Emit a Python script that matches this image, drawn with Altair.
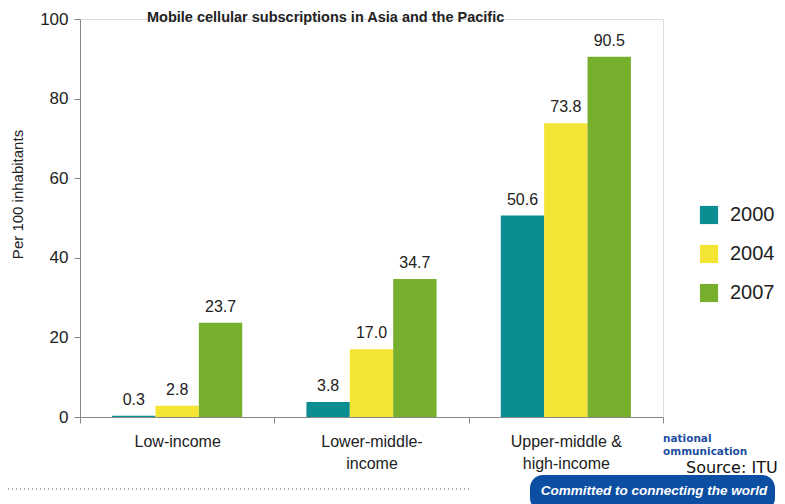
import altair as alt
import pandas as pd

groups = ["Low-income", "Lower-middle-\nincome", "Upper-middle &\nhigh-income"]
years = ["2000", "2004", "2007"]
v2000 = [0.3, 3.8, 50.6]
v2004 = [2.8, 17.0, 73.8]
v2007 = [23.7, 34.7, 90.5]
colors = ["#0B8D92", "#F4E434", "#76AF2B"]

rows = []
for i, g in enumerate(groups):
    for y, vals in zip(years, [v2000, v2004, v2007]):
        rows.append({"group": g, "year": y, "value": vals[i], "label": f"{vals[i]:.1f}"})
df = pd.DataFrame(rows)

FONT = "Liberation Sans"
W, H = 583, 398

xenc = alt.X("group:N", sort=groups, title=None,
             scale=alt.Scale(paddingInner=0, paddingOuter=0),
             axis=alt.Axis(labelExpr="split(datum.label, '\\n')", labelFontSize=16,
                           labelFont=FONT, labelColor="#222", labelAngle=0,
                           labelPadding=10, labelLineHeight=22,
                           tickBand="extent", tickSize=6, tickColor="#888",
                           domainColor="#888", ticks=True))
xoff = alt.XOffset("year:N", sort=years, scale=alt.Scale(paddingOuter=0.74, paddingInner=0))

bars = alt.Chart(df).mark_bar().encode(
    x=xenc,
    xOffset=xoff,
    y=alt.Y("value:Q", scale=alt.Scale(domain=[0, 100], nice=False),
            title="Per 100 inhabitants",
            axis=alt.Axis(values=[0, 20, 40, 60, 80, 100], grid=False,
                          labelFontSize=17, labelFont=FONT, labelColor="#222",
                          tickSize=6, tickColor="#888", domainColor="#888",
                          titleFont=FONT, titleFontSize=15, titleFontWeight="normal",
                          titleColor="#222", titlePadding=14, labelPadding=6,
                          titleY=175)),
    color=alt.Color("year:N", sort=years,
                    scale=alt.Scale(domain=years, range=colors),
                    legend=alt.Legend(title=None, orient="none", legendX=619, legendY=186,
                                      symbolType="square", symbolSize=330,
                                      symbolStrokeWidth=0, labelFontSize=20,
                                      labelFont=FONT, labelColor="#222",
                                      rowPadding=19, labelOffset=11)),
)

labels = alt.Chart(df).mark_text(baseline="bottom", dy=-8, fontSize=16, font=FONT,
                                 color="#222").encode(
    x=alt.X("group:N", sort=groups),
    xOffset=xoff,
    y="value:Q",
    text="label:N",
)

one = pd.DataFrame({"a": [0]})

title = alt.Chart(one).mark_text(text="Mobile cellular subscriptions in Asia and the Pacific",
                                 align="left", baseline="alphabetic", fontSize=14.5,
                                 fontWeight="bold", font="Liberation Sans", color="#222").encode(
    x=alt.value(67), y=alt.value(2.5))

dots = alt.Chart(one).mark_rule(strokeDash=[1, 3], color="#999", strokeWidth=1.5).encode(
    x=alt.value(-80), x2=alt.value(390), y=alt.value(470))

banner = alt.Chart(one).mark_rect(color="#0C4EA2", cornerRadius=13).encode(
    x=alt.value(450), x2=alt.value(695), y=alt.value(456), y2=alt.value(492))

banner_text = alt.Chart(one).mark_text(text="Committed to connecting the world", align="center",
                                       baseline="middle", fontSize=13.5, fontStyle="italic",
                                       fontWeight="bold", font="Liberation Sans", color="white").encode(
    x=alt.value(574), y=alt.value(472))

logo1 = alt.Chart(one).mark_text(text="national", align="left", baseline="middle", fontSize=10.5,
                                 fontWeight="bold", font="DejaVu Sans", color="#1E4FA0").encode(
    x=alt.value(583), y=alt.value(420))
logo2 = alt.Chart(one).mark_text(text="ommunication", align="left", baseline="middle", fontSize=10.5,
                                 fontWeight="bold", font="DejaVu Sans", color="#1E4FA0").encode(
    x=alt.value(583), y=alt.value(433))

source = alt.Chart(one).mark_text(text="Source: ITU", align="left", baseline="middle",
                                  fontSize=16, font="DejaVu Sans", color="#111").encode(
    x=alt.value(606), y=alt.value(449))

chart = alt.layer(bars, labels, title, dots, banner, banner_text, logo1, logo2, source).properties(
    width=W, height=H,
    autosize=alt.AutoSizeParams(type="none"),
    padding={"left": 72, "top": 11, "right": 114, "bottom": 87},
).configure_view(stroke=None).configure(background="white")

chart.save("out.html", embed_options={"renderer": "svg", "actions": False})
